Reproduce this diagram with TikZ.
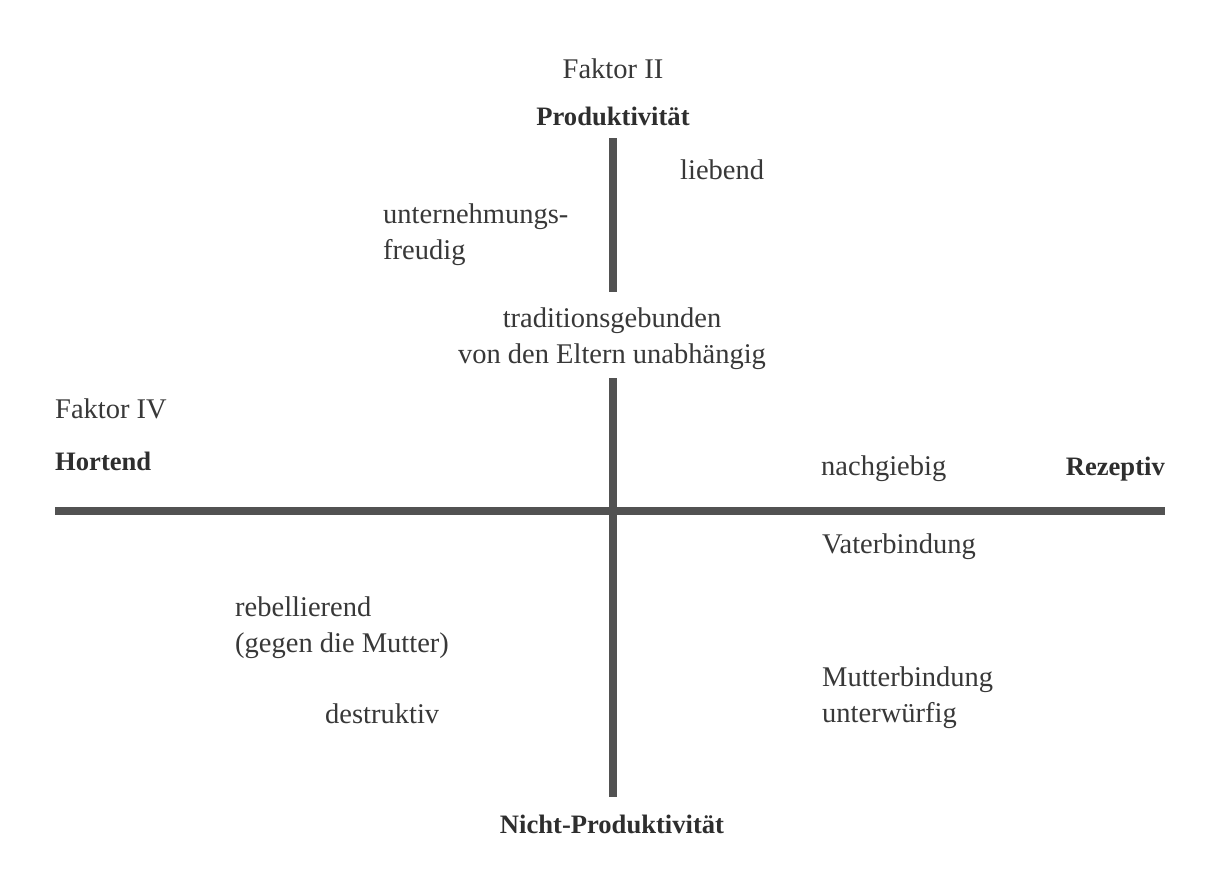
\documentclass[tikz,border=0pt]{standalone}
\usepackage{fontspec}
\setmainfont{Liberation Serif}
\begin{document}
\begin{tikzpicture}[x=1pt,y=-1pt,
  lbl/.style={inner sep=0pt, text=black!78, font=\fontsize{28.5}{36}\selectfont, align=left},
  head/.style={inner sep=0pt, text=black!82, font=\fontsize{26.6}{32}\selectfont\bfseries},
  axis/.style={line width=7.5pt, draw=black!68}]
\useasboundingbox[fill=white] (0,0) rectangle (1223,875);

% factor II: vertical axis labels
\node[lbl, anchor=base] (f2) at (613,78) {Faktor II};
\node[head, anchor=base] (prod) at (613,125) {Produktivität};
\node[head, anchor=base] (nprod) at (612,833) {Nicht-Produktivität};

% factor IV: horizontal axis labels
\node[lbl, anchor=base west] (f4) at (55,418) {Faktor IV};
\node[head, anchor=base west] (hort) at (55,470) {Hortend};
\node[head, anchor=base east] (rez) at (1165,475) {Rezeptiv};

% traits placed in the quadrants (base = last line of each block)
\node[lbl, anchor=base west] (lieb) at (680,179) {liebend};
\node[lbl, anchor=base west] (unt) at (383,259) {unternehmungs-\\freudig};
\node[lbl, anchor=base, align=center] (trad) at (612,363) {traditionsgebunden\\von den Eltern unabhängig};
\node[lbl, anchor=base west] (nach) at (821,475) {nachgiebig};
\node[lbl, anchor=base west] (vater) at (822,553) {Vaterbindung};
\node[lbl, anchor=base west] (rebel) at (235,652) {rebellierend\\(gegen die Mutter)};
\node[lbl, anchor=base west] (mutter) at (822,722) {Mutterbindung\\unterwürfig};
\node[lbl, anchor=base west] (destr) at (325,723) {destruktiv};

% axis end points
\coordinate (vtop) at (613,138);
\coordinate (vgapA) at (613,292);
\coordinate (vgapB) at (613,378);
\coordinate (vbot) at (613,797);
\coordinate (hleft) at (55,511);
\coordinate (hright) at (1165,511);

% axes
\draw[axis] (vtop) -- (vgapA);
\draw[axis] (vgapB) -- (vbot);
\draw[axis] (hleft) -- (hright);
\end{tikzpicture}
\end{document}
